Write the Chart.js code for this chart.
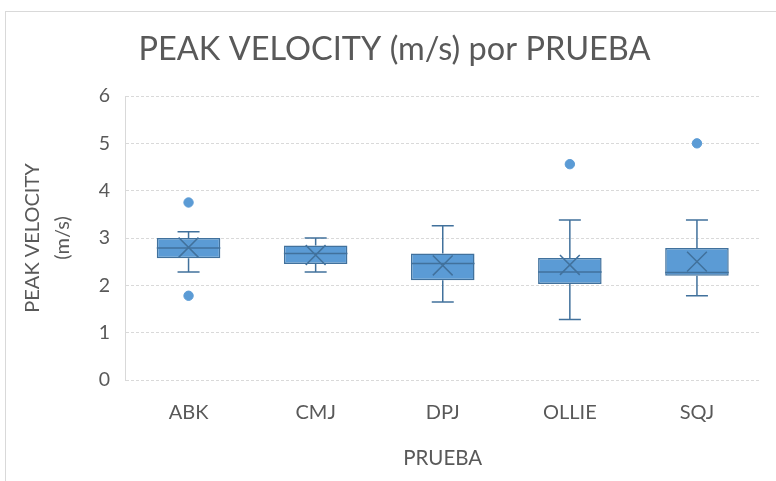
<!DOCTYPE html>
<html>
<head>
<meta charset="utf-8">
<script src="https://cdn.jsdelivr.net/npm/chart.js@4.4.1/dist/chart.umd.min.js"></script>
<style>
  html, body { margin: 0; padding: 0; background: #fff; }
  #wrap { position: relative; width: 776px; height: 481px; }
  #frame { position: absolute; left: 5px; top: 11px; right: -2px; bottom: -2px;
           border-left: 1px solid #d9d9d9; border-top: 1px solid #d9d9d9; }
  canvas { position: absolute; left: 0; top: 0; }
</style>
</head>
<body>
<div id="wrap">
  <div id="frame"></div>
  <canvas id="boxChart" width="776" height="481"></canvas>
</div>
<script>
// ── data ────────────────────────────────────────────────────────────────
const categories = ['ABK', 'CMJ', 'DPJ', 'OLLIE', 'SQJ'];
const whiskerMin = [2.28, 2.28, 1.65, 1.28, 1.78];
const q1Values   = [2.57, 2.45, 2.11, 2.03, 2.20];
const medians    = [2.79, 2.67, 2.46, 2.28, 2.27];
const q3Values   = [3.00, 2.84, 2.67, 2.58, 2.79];
const whiskerMax = [3.13, 3.00, 3.26, 3.38, 3.38];
const means      = [2.80, 2.64, 2.42, 2.43, 2.50];
const outlierCats   = ['ABK', 'ABK', 'OLLIE', 'SQJ'];
const outlierValues = [3.75, 1.78, 4.56, 5.00];
const yTicks = [0, 1, 2, 3, 4, 5, 6];

const FONT = 'Lato, "Open Sans", sans-serif';
const TEXT = '#595959';
const BOX_FILL = '#5b9bd5';
const BOX_LINE = '#41719c';

// whiskers + median lines, drawn through the chart's own scales
const boxExtras = {
    id: 'boxExtras',
    beforeDatasetsDraw(chart) {
        const { ctx, scales: { x, y } } = chart;
        ctx.save();
        ctx.strokeStyle = BOX_LINE;
        ctx.lineWidth = 1.5;
        categories.forEach((c, i) => {
            const px = x.getPixelForValue(i);
            const cap = 11;
            ctx.beginPath();
            ctx.moveTo(px, y.getPixelForValue(whiskerMax[i]));
            ctx.lineTo(px, y.getPixelForValue(q3Values[i]));
            ctx.moveTo(px, y.getPixelForValue(q1Values[i]));
            ctx.lineTo(px, y.getPixelForValue(whiskerMin[i]));
            ctx.moveTo(px - cap, y.getPixelForValue(whiskerMax[i]));
            ctx.lineTo(px + cap, y.getPixelForValue(whiskerMax[i]));
            ctx.moveTo(px - cap, y.getPixelForValue(whiskerMin[i]));
            ctx.lineTo(px + cap, y.getPixelForValue(whiskerMin[i]));
            ctx.stroke();
        });
        ctx.restore();
    },
    afterDatasetDraw(chart, args) {
        if (args.index !== 0) return;
        const { ctx, scales: { y } } = chart;
        const meta = chart.getDatasetMeta(0);
        ctx.save();
        ctx.strokeStyle = BOX_LINE;
        ctx.lineWidth = 1.5;
        meta.data.forEach((bar, i) => {
            const py = y.getPixelForValue(medians[i]);
            ctx.beginPath();
            ctx.moveTo(bar.x - bar.width / 2, py);
            ctx.lineTo(bar.x + bar.width / 2, py);
            ctx.stroke();
        });
        ctx.restore();
    }
};

new Chart(document.getElementById('boxChart'), {
    type: 'bar',
    data: {
        labels: categories,
        datasets: [
            {
                label: 'box',
                data: q1Values.map((v, i) => [v, q3Values[i]]),
                backgroundColor: BOX_FILL,
                borderColor: BOX_LINE,
                borderWidth: 1.5,
                borderSkipped: false,
                barPercentage: 0.5,
                categoryPercentage: 1,
                order: 3
            },
            {
                type: 'line',
                label: 'mean',
                data: means,
                showLine: false,
                pointStyle: 'crossRot',
                pointRadius: 14,
                pointBorderWidth: 1.5,
                pointBorderColor: BOX_LINE,
                order: 1
            },
            {
                type: 'line',
                label: 'outliers',
                data: outlierCats.map((c, i) => ({ x: c, y: outlierValues[i] })),
                showLine: false,
                pointStyle: 'circle',
                pointRadius: 4.7,
                pointBackgroundColor: BOX_FILL,
                pointBorderColor: BOX_FILL,
                order: 2
            }
        ]
    },
    options: {
        responsive: false,
        animation: false,
        layout: { padding: { left: 18, right: 5, top: 0, bottom: 10 } },
        plugins: {
            legend: { display: false },
            tooltip: { enabled: false },
            title: {
                display: true,
                text: 'PEAK VELOCITY (m/s) por PRUEBA',
                color: TEXT,
                font: { family: FONT, size: 32.5, weight: 'normal' },
                padding: { top: 30, bottom: 27 }
            }
        },
        scales: {
            y: {
                min: 0,
                max: 6,
                afterBuildTicks: s => { s.ticks = yTicks.map(v => ({ value: v })); },
                afterFit: s => { s.width = 107; },
                ticks: { color: TEXT, font: { family: FONT, size: 19.5 }, padding: 15 },
                grid: { color: '#d9d9d9', drawTicks: false, lineWidth: 1 },
                border: { display: true, color: '#d9d9d9', dash: [3, 2] },
                title: {
                    display: true,
                    text: ['PEAK VELOCITY', '(m/s)'],
                    color: TEXT,
                    font: { family: FONT, size: 20, lineHeight: 1.5 },
                    padding: { top: 0, bottom: 18 }
                }
            },
            x: {
                afterFit: s => { s.height = 91; },
                grid: { display: false, drawTicks: false },
                border: { display: false },
                ticks: { color: TEXT, font: { family: FONT, size: 20 }, padding: 21, maxRotation: 0 },
                title: {
                    display: true,
                    text: 'PRUEBA',
                    color: TEXT,
                    font: { family: FONT, size: 20.5 },
                    padding: { top: 21, bottom: 0 }
                }
            }
        }
    },
    plugins: [boxExtras]
});
</script>
</body>
</html>
